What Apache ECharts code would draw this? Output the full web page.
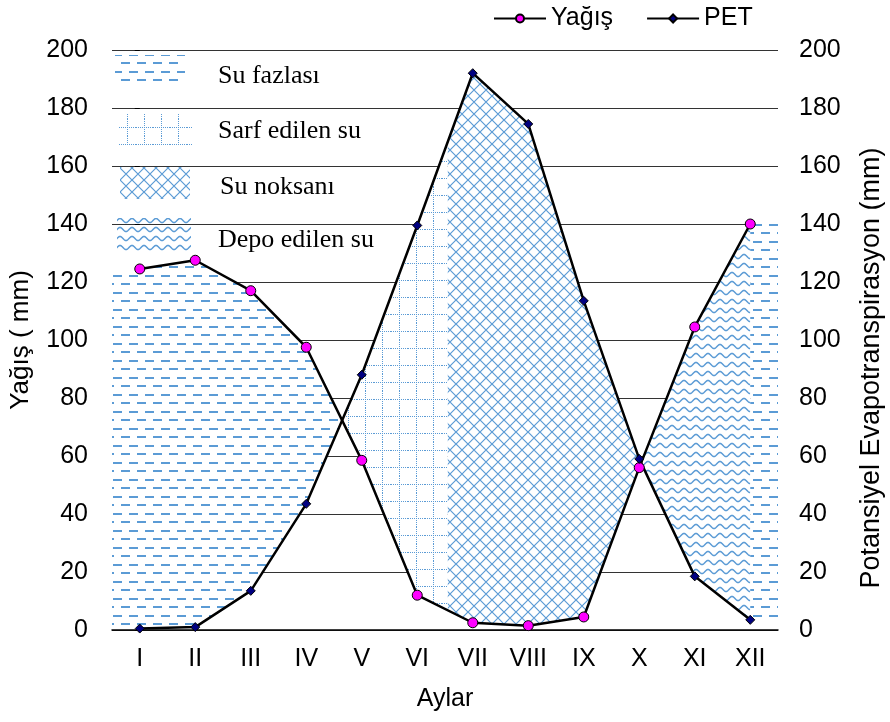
<!DOCTYPE html>
<html>
<head>
<meta charset="utf-8">
<title>Su bilançosu</title>
<script src="https://cdn.jsdelivr.net/npm/echarts@6/dist/echarts.min.js"></script>
<style>
    html, body { margin: 0; padding: 0; background: #fff; }
    #chart { width: 890px; height: 722px; }
</style>
</head>
<body>
<div id="chart"></div>
<script>
// ------------------------------
// Data
// ------------------------------
var months = ['I', 'II', 'III', 'IV', 'V', 'VI', 'VII', 'VIII', 'IX', 'X', 'XI', 'XII'];
var yagis = [124.5, 127.5, 117, 97.5, 58.5, 12, 2.5, 1.5, 4.5, 56, 104.5, 140];
var pet = [0.5, 1, 13.5, 43.5, 88, 139.5, 192, 174.5, 113.5, 59, 18.5, 3.5];
var yMin = 0, yMax = 200, yStep = 20;
// month (as index, VI = 5) where the stored soil water runs out
var depoBitis = 5.55;
var bolgeAdlari = ['Su fazlası', 'Sarf edilen su', 'Su noksanı', 'Depo edilen su'];

var mavi = '#5b9bd5';
var yazi = '"Liberation Sans", Arial, sans-serif';

// ------------------------------
// Fill patterns
// ------------------------------
function makePattern(w, h, draw) {
    var c = document.createElement('canvas');
    c.width = w;
    c.height = h;
    var ctx = c.getContext('2d');
    ctx.fillStyle = '#fff';
    ctx.fillRect(0, 0, w, h);
    ctx.fillStyle = mavi;
    ctx.strokeStyle = mavi;
    draw(ctx);
    return { image: c, repeat: 'repeat' };
}

var desen = {
    fazla: makePattern(16, 17, function (ctx) {
        ctx.fillRect(1, 3, 9, 2);
        ctx.fillRect(9, 11, 7, 2);
        ctx.fillRect(0, 11, 2, 2);
    }),
    sarf: makePattern(17, 17, function (ctx) {
        for (var i = 0; i < 17; i += 2) {
            ctx.fillRect(8, i, 1, 1);
            ctx.fillRect(i, 8, 1, 1);
        }
    }),
    noksan: makePattern(12, 12, function (ctx) {
        ctx.lineWidth = 1.2;
        ctx.beginPath();
        ctx.moveTo(-1, -1); ctx.lineTo(13, 13);
        ctx.moveTo(13, -1); ctx.lineTo(-1, 13);
        ctx.stroke();
    }),
    depo: makePattern(12, 9, function (ctx) {
        ctx.lineWidth = 1.5;
        ctx.beginPath();
        for (var x = -1; x <= 13; x += 0.5) {
            var y = 4.5 - 2 * Math.cos(2 * Math.PI * x / 12);
            if (x === -1) ctx.moveTo(x, y); else ctx.lineTo(x, y);
        }
        ctx.stroke();
    })
};

// ------------------------------
// Regions between the two curves
// ------------------------------
function valueAt(arr, x) {
    if (x <= 0) return arr[0];
    if (x >= arr.length - 1) return arr[arr.length - 1];
    var i = Math.floor(x), t = x - i;
    return arr[i] + (arr[i + 1] - arr[i]) * t;
}

var kesisim = [];
for (var i = 0; i < months.length - 1; i++) {
    var d0 = yagis[i] - pet[i], d1 = yagis[i + 1] - pet[i + 1];
    if (d0 * d1 < 0) kesisim.push(i + d0 / (d0 - d1));
}

var son = months.length - 1;
var bolgeler = [
    { from: -0.5, to: kesisim[0], desen: 'fazla' },
    { from: kesisim[0], to: depoBitis, desen: 'sarf' },
    { from: depoBitis, to: kesisim[1], desen: 'noksan' },
    { from: kesisim[1], to: son, desen: 'depo' },
    { from: son, to: son + 0.5, desen: 'fazla' }
];

function band(a, b) {
    var xs = [a];
    for (var k = Math.ceil(a); k < b; k++) {
        if (k > a) xs.push(k);
    }
    xs.push(b);
    var pts = xs.map(function (x) { return [x, valueAt(yagis, x)]; });
    xs.slice().reverse().forEach(function (x) { pts.push([x, valueAt(pet, x)]); });
    return pts;
}

// ------------------------------
// Chart
// ------------------------------
var myChart = echarts.init(document.getElementById('chart'));

var legendBoxes = [
    { x: 115, y: 55, w: 70, h: 28, ty: 76, tx: 218 },
    { x: 119, y: 113, w: 73, h: 32, ty: 131, tx: 218 },
    { x: 120, y: 166, w: 70, h: 33, ty: 187, tx: 220 },
    { x: 117, y: 218, w: 74, h: 33, ty: 240, tx: 218 }
];
var legendDesen = ['fazla', 'sarf', 'noksan', 'depo'];
var graphic = [];
legendBoxes.forEach(function (b, i) {
    graphic.push({
        type: 'rect',
        shape: { x: b.x, y: b.y, width: b.w, height: b.h },
        style: { fill: desen[legendDesen[i]] }
    });
    graphic.push({
        type: 'text',
        style: {
            x: b.tx, y: b.ty, text: bolgeAdlari[i],
            fill: '#000', fontSize: 26,
            fontFamily: '"Liberation Serif", "Times New Roman", serif',
            verticalAlign: 'middle'
        }
    });
});

var option = {
    animation: false,
    backgroundColor: '#fff',
    grid: { left: 112, right: 112, top: 50, bottom: 92, containLabel: false, outerBoundsMode: 'none' },
    legend: {
        data: ['Yağış', 'PET'],
        left: 488,
        top: 1,
        itemWidth: 52,
        itemHeight: 10,
        itemGap: 33,
        textStyle: { fontSize: 25, color: '#000', fontFamily: yazi }
    },
    graphic: graphic,
    xAxis: [
        {
            type: 'category',
            data: months,
            name: 'Aylar',
            nameLocation: 'middle',
            nameGap: 57,
            nameTextStyle: { fontSize: 25, color: '#000', fontFamily: yazi },
            axisLine: { lineStyle: { color: '#000', width: 1.5 } },
            axisTick: { length: 8, lineStyle: { color: '#000' } },
            axisLabel: { fontSize: 25, color: '#000', fontFamily: yazi, margin: 17 }
        },
        {
            type: 'value',
            min: -0.5,
            max: son + 0.5,
            show: false
        }
    ],
    yAxis: [
        {
            type: 'value',
            min: yMin, max: yMax, interval: yStep,
            name: 'Yağış ( mm)',
            nameLocation: 'middle',
            nameGap: 78,
            nameTextStyle: { fontSize: 26, color: '#000', fontFamily: yazi },
            axisLine: { show: false },
            axisTick: { show: true, length: 5, lineStyle: { color: '#000' } },
            axisLabel: { fontSize: 25, color: '#000', fontFamily: yazi, margin: 24 },
            splitLine: { lineStyle: { color: '#333', width: 1 } }
        },
        {
            type: 'value',
            position: 'right',
            min: yMin, max: yMax, interval: yStep,
            name: 'Potansiyel Evapotranspirasyon (mm)',
            nameLocation: 'middle',
            nameGap: 80,
            nameTextStyle: { fontSize: 27, color: '#000', fontFamily: yazi, padding: [0, 56, 0, 0] },
            axisLine: { show: false },
            axisTick: { show: false },
            axisLabel: { fontSize: 25, color: '#000', fontFamily: yazi, margin: 21 },
            splitLine: { show: false }
        }
    ],
    series: [
        {
            name: 'Bölgeler',
            type: 'custom',
            xAxisIndex: 1,
            yAxisIndex: 0,
            z: 1,
            silent: true,
            data: bolgeler.map(function (r) { return [r.from, 0]; }),
            renderItem: function (params, api) {
                var r = bolgeler[params.dataIndex];
                var pts = band(r.from, r.to).map(function (p) { return api.coord(p); });
                return {
                    type: 'polygon',
                    shape: { points: pts },
                    style: { fill: desen[r.desen], stroke: null }
                };
            }
        },
        {
            name: 'Yağış',
            type: 'line',
            data: yagis,
            z: 5,
            symbol: 'circle',
            symbolSize: 10,
            lineStyle: { color: '#000', width: 2.5 },
            itemStyle: { color: '#ff00ff', borderColor: '#000', borderWidth: 1 },
            emphasis: { disabled: true }
        },
        {
            name: 'PET',
            type: 'line',
            data: pet,
            yAxisIndex: 1,
            z: 5,
            symbol: 'diamond',
            symbolSize: 9,
            lineStyle: { color: '#000', width: 2.5 },
            itemStyle: { color: '#000080', borderColor: '#000', borderWidth: 1 },
            emphasis: { disabled: true }
        }
    ]
};

myChart.setOption(option);
</script>
</body>
</html>
